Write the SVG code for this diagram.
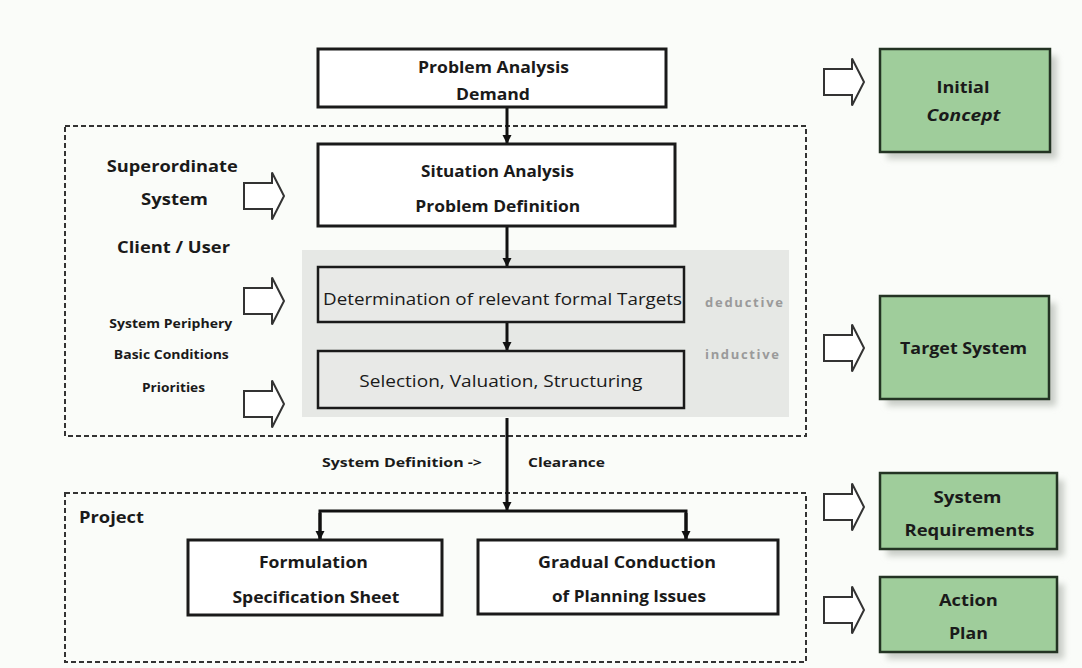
<svg xmlns="http://www.w3.org/2000/svg" width="1082" height="668" viewBox="0 0 1082 668">
<defs>
<style>
.t{font-family:"Open Sans","Liberation Sans",sans-serif;fill:#1a1a1a}
.b{font-weight:bold;font-size:16.5px}
.r{font-weight:normal;font-size:17px}
.s{font-weight:bold;font-size:12.5px}
.m{font-weight:bold;font-size:13px}
.g{font-weight:bold;font-size:13px;fill:#9a9a9a}
.box{fill:#ffffff;stroke:#1a1a1a;stroke-width:3}
.gbox{fill:#e8e9e7;stroke:#1a1a1a;stroke-width:2.5}
.green{fill:#9fcd9b;stroke:#233323;stroke-width:2.5}
.shadow{fill:#c9cdc7;filter:url(#blur)}
.dash{fill:none;stroke:#333;stroke-width:2;stroke-dasharray:5 3}
.barrow{fill:#ffffff;stroke:#333;stroke-width:2;stroke-linejoin:miter}
.conn{fill:none;stroke:#111;stroke-width:3}
</style>
<filter id="blur" x="-20%" y="-20%" width="140%" height="140%"><feGaussianBlur stdDeviation="3"/></filter>
<marker id="ah" markerWidth="10" markerHeight="10" refX="8" refY="5" orient="auto" markerUnits="userSpaceOnUse">
<path d="M0,0.5 L9,5 L0,9.5 Z" fill="#111"/>
</marker>
<path id="bl" d="M0,-13 L28,-13 L28,-23.5 L40,0 L28,23.5 L28,13 L0,13 Z"/>
</defs>
<rect x="0" y="0" width="1082" height="668" fill="#fafcf9"/>

<g id="frame-system">
<rect class="dash" x="65" y="126" width="741" height="310"/>
</g>
<g id="frame-project">
<rect class="dash" x="65" y="493" width="741" height="169"/>
<text class="t b" x="79" y="523" textLength="65" lengthAdjust="spacingAndGlyphs">Project</text>
</g>
<g id="target-area">
<rect x="302" y="250" width="487" height="167" fill="#e6e8e5"/>
</g>

<g id="connectors">
<line class="conn" x1="507" y1="107" x2="507" y2="143" marker-end="url(#ah)"/>
<line class="conn" x1="507" y1="226" x2="507" y2="266" marker-end="url(#ah)"/>
<line class="conn" x1="507" y1="322" x2="507" y2="350" marker-end="url(#ah)"/>
<line class="conn" x1="507" y1="418" x2="507" y2="510" marker-end="url(#ah)"/>
<polyline class="conn" points="320,539 320,511 686,511 686,539"/>
<line class="conn" x1="320" y1="513" x2="320" y2="539" marker-end="url(#ah)"/>
<line class="conn" x1="686" y1="513" x2="686" y2="539" marker-end="url(#ah)"/>
<use href="#bl" class="barrow" x="244" y="196"/>
<use href="#bl" class="barrow" x="244" y="301"/>
<use href="#bl" class="barrow" x="244" y="404"/>
<use href="#bl" class="barrow" x="824" y="82"/>
<use href="#bl" class="barrow" x="824" y="348"/>
<use href="#bl" class="barrow" x="824" y="507"/>
<use href="#bl" class="barrow" x="824" y="610"/>
</g>

<g id="problem-analysis">
<rect class="box" x="318" y="49" width="348" height="58"/>
<text class="t b" x="493.5" y="73" text-anchor="middle" textLength="151" lengthAdjust="spacingAndGlyphs">Problem Analysis</text>
<text class="t b" x="493" y="100" text-anchor="middle" textLength="74" lengthAdjust="spacingAndGlyphs">Demand</text>
</g>
<g id="situation-analysis">
<rect class="box" x="318" y="144" width="357" height="82"/>
<text class="t b" x="497.5" y="177" text-anchor="middle" textLength="153" lengthAdjust="spacingAndGlyphs">Situation Analysis</text>
<text class="t b" x="497.8" y="212" text-anchor="middle" textLength="165" lengthAdjust="spacingAndGlyphs">Problem Definition</text>
</g>
<g id="determination">
<rect class="gbox" x="318" y="267" width="366" height="55"/>
<text class="t r" x="502.5" y="305" text-anchor="middle" textLength="359" lengthAdjust="spacingAndGlyphs">Determination of relevant formal Targets</text>
</g>
<g id="selection">
<rect class="gbox" x="318" y="351" width="366" height="57"/>
<text class="t r" x="500.8" y="387" text-anchor="middle" textLength="283" lengthAdjust="spacingAndGlyphs">Selection, Valuation, Structuring</text>
</g>
<g id="labels-method">
<text class="t g" x="705" y="307" textLength="78" lengthAdjust="spacing">deductive</text>
<text class="t g" x="705" y="359" textLength="74" lengthAdjust="spacing">inductive</text>
</g>
<g id="inputs">
<text class="t b" x="172.3" y="172" text-anchor="middle" textLength="131" lengthAdjust="spacingAndGlyphs">Superordinate</text>
<text class="t b" x="174.5" y="205" text-anchor="middle" textLength="67" lengthAdjust="spacingAndGlyphs">System</text>
<text class="t b" x="173.5" y="253" text-anchor="middle" textLength="113" lengthAdjust="spacingAndGlyphs">Client / User</text>
<text class="t s" x="170.8" y="328" text-anchor="middle" textLength="123" lengthAdjust="spacingAndGlyphs">System Periphery</text>
<text class="t s" x="171.3" y="359" text-anchor="middle" textLength="115" lengthAdjust="spacingAndGlyphs">Basic Conditions</text>
<text class="t s" x="173.5" y="392" text-anchor="middle" textLength="63" lengthAdjust="spacingAndGlyphs">Priorities</text>
</g>
<g id="clearance-labels">
<text class="t m" x="322" y="467" textLength="160" lengthAdjust="spacingAndGlyphs">System Definition -&gt;</text>
<text class="t m" x="528" y="467" textLength="77" lengthAdjust="spacingAndGlyphs">Clearance</text>
</g>
<g id="formulation">
<rect class="box" x="188" y="540" width="254" height="75"/>
<text class="t b" x="313.4" y="568" text-anchor="middle" textLength="109" lengthAdjust="spacingAndGlyphs">Formulation</text>
<text class="t b" x="315.9" y="603" text-anchor="middle" textLength="167" lengthAdjust="spacingAndGlyphs">Specification Sheet</text>
</g>
<g id="gradual-conduction">
<rect class="box" x="478" y="540" width="300" height="74"/>
<text class="t b" x="627" y="568" text-anchor="middle" textLength="178" lengthAdjust="spacingAndGlyphs">Gradual Conduction</text>
<text class="t b" x="629" y="602" text-anchor="middle" textLength="154" lengthAdjust="spacingAndGlyphs">of Planning Issues</text>
</g>

<g id="initial-concept">
<rect class="shadow" x="887" y="56" width="170" height="103"/>
<rect class="green" x="880" y="49" width="170" height="103"/>
<text class="t b" x="963" y="93" text-anchor="middle" textLength="53" lengthAdjust="spacingAndGlyphs">Initial</text>
<text class="t b" x="963.5" y="121" text-anchor="middle" font-style="italic" textLength="74" lengthAdjust="spacingAndGlyphs">Concept</text>
</g>
<g id="target-system">
<rect class="shadow" x="887" y="303" width="169" height="103"/>
<rect class="green" x="880" y="296" width="169" height="103"/>
<text class="t b" x="963.5" y="354" text-anchor="middle" textLength="127" lengthAdjust="spacingAndGlyphs">Target System</text>
</g>
<g id="system-requirements">
<rect class="shadow" x="887" y="480" width="177" height="76"/>
<rect class="green" x="880" y="473" width="177" height="76"/>
<text class="t b" x="967.5" y="503" text-anchor="middle" textLength="68" lengthAdjust="spacingAndGlyphs">System</text>
<text class="t b" x="969.5" y="536" text-anchor="middle" textLength="130" lengthAdjust="spacingAndGlyphs">Requirements</text>
</g>
<g id="action-plan">
<rect class="shadow" x="887" y="584" width="177" height="75"/>
<rect class="green" x="880" y="577" width="177" height="75"/>
<text class="t b" x="968.4" y="606" text-anchor="middle" textLength="59" lengthAdjust="spacingAndGlyphs">Action</text>
<text class="t b" x="968.4" y="639" text-anchor="middle" textLength="39" lengthAdjust="spacingAndGlyphs">Plan</text>
</g>
</svg>
